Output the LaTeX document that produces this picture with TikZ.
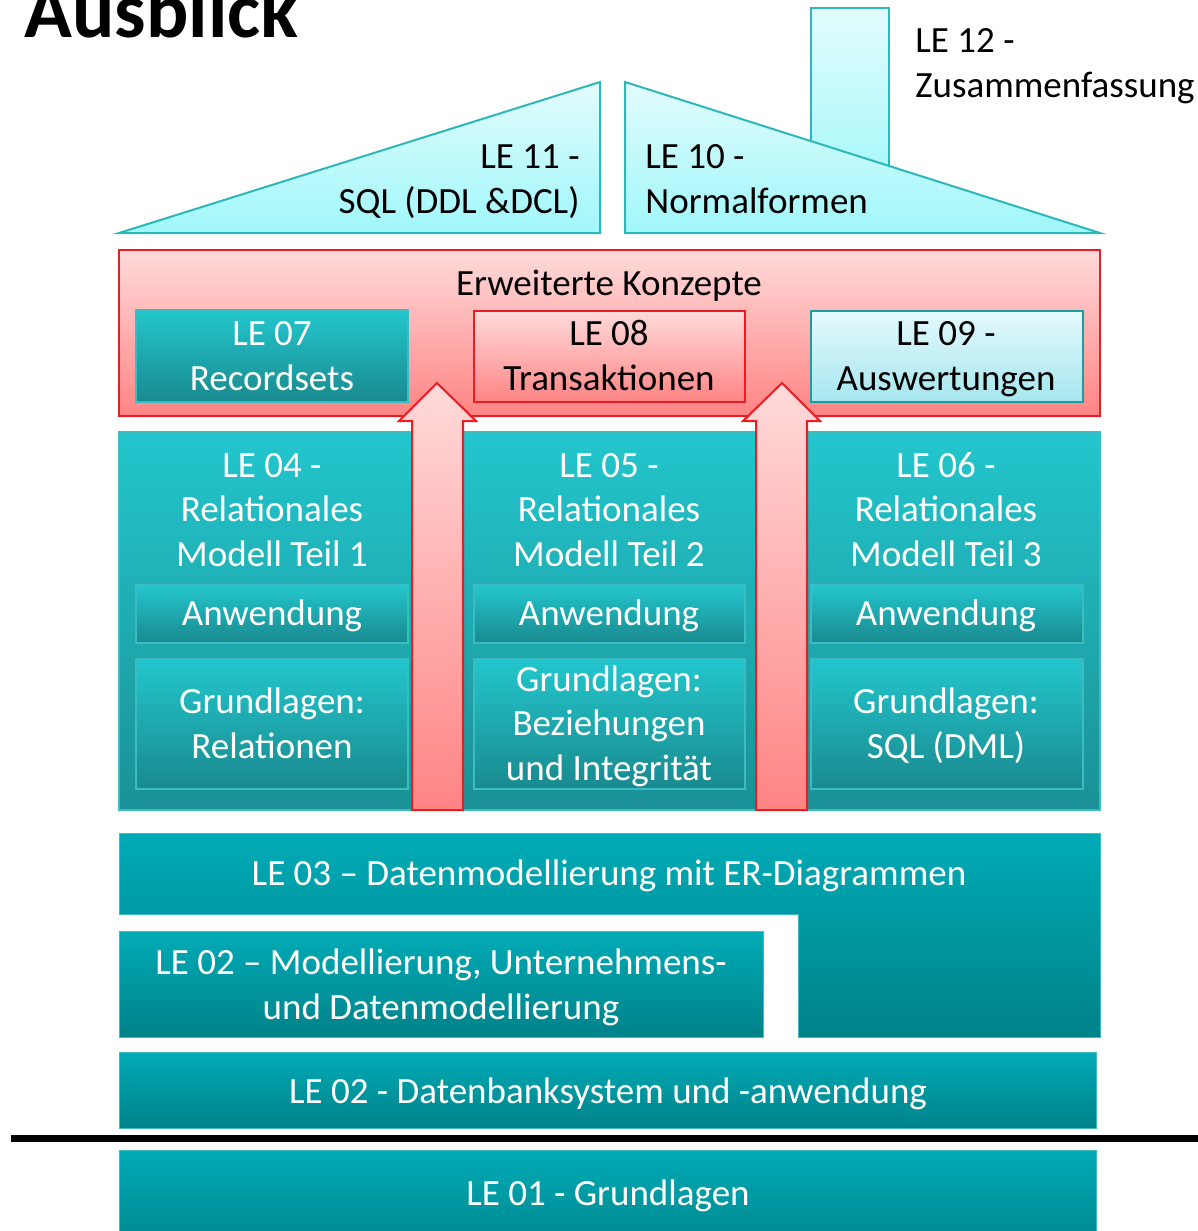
\documentclass[tikz,border=0pt]{standalone}
\usepackage{fontspec}
\setmainfont{Carlito}
\usetikzlibrary{calc}

\definecolor{rooftop}{HTML}{E2FCFD}
\definecolor{roofbot}{HTML}{A0F7FA}
\definecolor{roofline}{HTML}{2DB7BA}
\definecolor{redtop}{HTML}{FFDADA}
\definecolor{redbot}{HTML}{FF8484}
\definecolor{redline}{HTML}{EC1C24}
\definecolor{tealtop}{HTML}{23C6CD}
\definecolor{tealbot}{HTML}{1A9196}
\definecolor{tealline}{HTML}{3CBCC0}
\definecolor{deeptop}{HTML}{00ABB6}
\definecolor{deepbot}{HTML}{008289}
\definecolor{paletop}{HTML}{E4FAFD}
\definecolor{palebot}{HTML}{A6E6EE}
\definecolor{paleline}{HTML}{1A9EA2}

\newcommand\lefont{\fontsize{18.5}{22.25}\selectfont}

\begin{document}
\begin{tikzpicture}[x=0.5pt, y=-0.5pt,
  roof/.style={draw=roofline, line width=1pt, top color=rooftop, bottom color=roofbot},
  redpanel/.style={draw=redline, line width=1pt, top color=redtop, bottom color=redbot},
  tealpanel/.style={draw=tealline, line width=0.75pt, top color=tealtop, bottom color=tealbot},
  tealbox/.style={draw=tealline, line width=0.75pt, top color=tealtop, bottom color=tealbot!95!black},
  palebox/.style={draw=paleline, line width=1pt, top color=paletop, bottom color=palebot},
  deepbox/.style={draw=tealline, line width=0.5pt, top color=deeptop, bottom color=deepbot},
  uparrow/.style={draw=redline, line width=1pt, top color=redtop, bottom color=redbot},
  txt/.style={font=\lefont, align=center, inner sep=0pt, anchor=base},
  wtxt/.style={txt, text=white}
]
\useasboundingbox (0,0) rectangle (1198,1231);
\clip (0,0) rectangle (1198,1231);

% title
\node[font=\fontsize{39.5}{47}\selectfont\bfseries, anchor=base west, inner sep=0pt] (title) at (24,37) {Ausblick};

% roof and chimney
\draw[roof] (811,8) rectangle (889,200);
\draw[roof] (119,233) -- (600,82) -- (600,233) -- cycle;
\draw[roof] (625,82) -- (625,233) -- (1100,233) -- cycle;
\node[txt, align=left, anchor=base west] (le12) at (915,97) {LE 12 -\\Zusammenfassung};
\node[txt, align=right, anchor=base east] (le11) at (580,213) {LE 11 -\\SQL (DDL \&DCL)};
\node[txt, align=left, anchor=base west] (le10) at (645,213) {LE 10 -\\Normalformen};

% erweiterte konzepte
\draw[redpanel] (119,250) rectangle (1100,416);
\node[txt] (erw) at (609,295) {Erweiterte Konzepte};
\draw[tealbox] (136,310) rectangle (408,402);
\draw[redpanel] (474,311) rectangle (745,402);
\draw[palebox] (811,311) rectangle (1083,402);
\node[wtxt] (le07) at (272,390) {LE 07\\Recordsets};
\node[txt] (le08) at (609,390) {LE 08\\Transaktionen};
\node[txt] (le09) at (946,390) {LE 09 -\\Auswertungen};

% relationales modell
\draw[tealpanel] (119,432) rectangle (1100,810);
\foreach \cx/\xa/\xb in {272/136/408, 609/474/745, 946/811/1083}{
  \draw[tealbox] (\xa,585) rectangle (\xb,643);
  \draw[tealbox] (\xa,659) rectangle (\xb,789);
}
\node[wtxt] (le04) at (272,566) {LE 04 -\\Relationales\\Modell Teil 1};
\node[wtxt] (le05) at (609,566) {LE 05 -\\Relationales\\Modell Teil 2};
\node[wtxt] (le06) at (946,566) {LE 06 -\\Relationales\\Modell Teil 3};
\node[wtxt] (anw1) at (272,625) {Anwendung};
\node[wtxt] (anw2) at (609,625) {Anwendung};
\node[wtxt] (anw3) at (946,625) {Anwendung};
\node[wtxt] (grd1) at (272,758) {Grundlagen:\\Relationen};
\node[wtxt] (grd2) at (609,780) {Grundlagen:\\Beziehungen\\und Integrität};
\node[wtxt] (grd3) at (946,758) {Grundlagen:\\SQL (DML)};

% arrows up
\draw[uparrow] (412,810) -- (412,421) -- (399,421) -- (437,383) -- (476,421) -- (463,421) -- (463,810) -- cycle;
\draw[uparrow] (756,810) -- (756,421) -- (743,421) -- (782,383) -- (820,421) -- (807,421) -- (807,810) -- cycle;

% fundament
\draw[deepbox] (119,833) -- (1100,833) -- (1100,1037) -- (798,1037) -- (798,914) -- (119,914) -- cycle;
\node[wtxt] (le03) at (609,885) {LE 03 -- Datenmodellierung mit ER-Diagrammen};
\draw[deepbox] (119,931) rectangle (763,1037);
\node[wtxt] (le02a) at (441,1019) {LE 02 -- Modellierung, Unternehmens-\\und Datenmodellierung};
\draw[deepbox] (119,1052) rectangle (1096,1128);
\node[wtxt] (le02b) at (608,1103) {LE 02 - Datenbanksystem und -anwendung};
\draw[line width=3.5pt] (11,1138) -- (1198,1138);
\draw[deepbox] (119,1150) rectangle (1096,1260);
\node[wtxt] (le01) at (608,1205) {LE 01 - Grundlagen};

\end{tikzpicture}
\end{document}
